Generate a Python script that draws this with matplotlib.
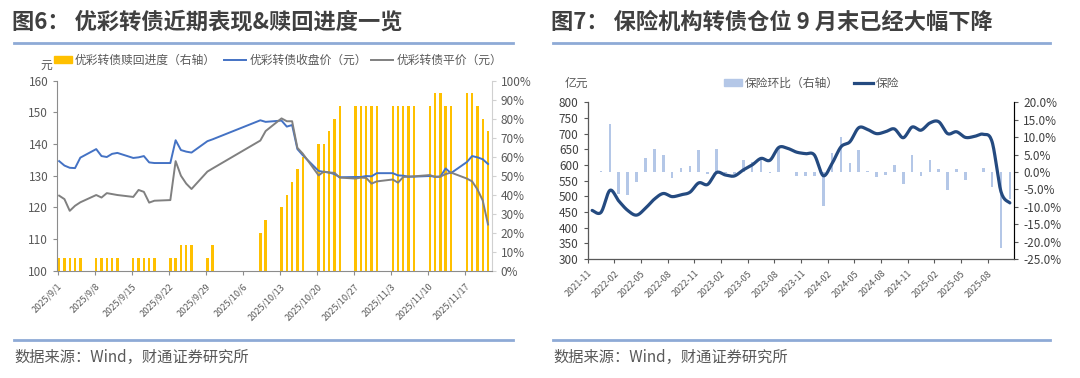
import numpy as np
import matplotlib
matplotlib.use("Agg")
import matplotlib.pyplot as plt
from matplotlib.lines import Line2D
from matplotlib.patches import Patch

plt.rcParams['font.family'] = ['Noto Sans CJK SC', 'DejaVu Sans']
plt.rcParams['axes.unicode_minus'] = False

# ---------------- Left chart data (图6) ----------------
trade_dates = [
    '2025-09-01', '2025-09-02', '2025-09-03', '2025-09-04', '2025-09-05',
    '2025-09-08', '2025-09-09', '2025-09-10', '2025-09-11', '2025-09-12',
    '2025-09-15', '2025-09-16', '2025-09-17', '2025-09-18', '2025-09-19',
    '2025-09-22', '2025-09-23', '2025-09-24', '2025-09-25', '2025-09-26',
    '2025-09-29', '2025-09-30',
    '2025-10-09', '2025-10-10',
    '2025-10-13', '2025-10-14', '2025-10-15', '2025-10-16', '2025-10-17',
    '2025-10-20', '2025-10-21', '2025-10-22', '2025-10-23', '2025-10-24',
    '2025-10-27', '2025-10-28', '2025-10-29', '2025-10-30', '2025-10-31',
    '2025-11-03', '2025-11-04', '2025-11-05', '2025-11-06', '2025-11-07',
    '2025-11-10', '2025-11-11', '2025-11-12', '2025-11-13', '2025-11-14',
    '2025-11-17', '2025-11-18', '2025-11-19', '2025-11-20', '2025-11-21',
]
close_price = [
    134.6, 133.2, 132.5, 132.4, 135.7,
    138.4, 136.2, 135.9, 136.9, 137.2,
    135.6, 135.8, 136.2, 134.2, 134.0,
    134.0, 141.2, 138.1, 137.6, 137.3,
    140.9, 141.5,
    147.5, 147.0,
    147.4, 145.5, 146.0, 138.4, 136.5,
    131.5, 131.2, 131.0, 130.5, 129.5,
    129.6, 129.6, 129.9, 129.8, 130.8,
    130.8, 130.1, 130.0, 129.7, 129.7,
    129.9, 129.7, 129.7, 132.3, 130.8,
    134.3, 136.2, 135.8, 135.2, 133.7,
]
parity = [
    123.7, 122.6, 118.9, 120.5, 121.6,
    123.9, 123.1, 124.5, 124.2, 123.9,
    123.3, 125.5, 124.9, 121.5, 122.1,
    122.3, 134.6, 130.0, 127.5, 125.8,
    131.3, 132.3,
    141.1, 144.1,
    148.1, 147.2, 147.2, 138.8, 137.0,
    130.1, 131.3, 131.0, 130.9, 129.4,
    129.1, 129.4, 129.3, 127.5, 128.2,
    128.8, 127.8, 129.6, 129.7, 129.8,
    130.2, 129.6, 129.7, 130.5, 131.0,
    129.1, 128.2, 125.7, 122.2, 114.6,
]
# redemption progress: days counted out of 15
redeem_days = [
    1, 1, 1, 1, 1,
    1, 1, 1, 1, 1,
    1, 1, 1, 1, 1,
    1, 1, 2, 2, 2,
    1, 2,
    3, 4,
    5, 6, 7, 8, 9,
    10, 10, 11, 12, 13,
    13, 13, 13, 13, 13,
    13, 13, 13, 13, 13,
    13, 14, 14, 13, 13,
    14, 14, 13, 12, 11,
]
redeem_total = 15
week_labels = ['2025/9/1', '2025/9/8', '2025/9/15', '2025/9/22', '2025/9/29', '2025/10/6',
               '2025/10/13', '2025/10/20', '2025/10/27', '2025/11/3', '2025/11/10', '2025/11/17']

# ---------------- Right chart data (图7) ----------------
months = ['2021-11', '2021-12',
          '2022-01', '2022-02', '2022-03', '2022-04', '2022-05', '2022-06',
          '2022-07', '2022-08', '2022-09', '2022-10', '2022-11', '2022-12',
          '2023-01', '2023-02', '2023-03', '2023-04', '2023-05', '2023-06',
          '2023-07', '2023-08', '2023-09', '2023-10', '2023-11', '2023-12',
          '2024-01', '2024-02', '2024-03', '2024-04', '2024-05', '2024-06',
          '2024-07', '2024-08', '2024-09', '2024-10', '2024-11', '2024-12',
          '2025-01', '2025-02', '2025-03', '2025-04', '2025-05', '2025-06',
          '2025-07', '2025-08', '2025-09', '2025-10']
insurance_hold = [455, 449,
                  519, 485, 455, 440, 462, 491,
                  509, 499, 505, 513, 543, 538,
                  576, 568, 565, 584, 600, 621,
                  615, 656, 653, 641, 636, 632,
                  566, 605, 658, 674, 719, 713,
                  700, 706, 715, 687, 721, 711,
                  734, 738, 700, 706, 688, 691,
                  698, 674, 515, 479]
insurance_mom = [np.nan, 0.4,
                 13.8, -6.3, -6.7, -2.9, 4.0, 6.7,
                 5.0, -1.7, 1.1, 1.7, 6.2, -0.6,
                 6.7, -0.2, -0.5, 3.5, 2.9, 3.8,
                 -0.3, 6.7, 0.1, -1.3, -1.2, -1.2,
                 -9.8, 5.5, 9.9, 2.6, 6.4, 0.3,
                 -1.4, -0.8, 2.1, -3.6, 5.0, -1.3,
                 3.4, 0.8, -5.2, 0.8, -2.3, 0.1,
                 1.0, -4.2, -21.8, -7.9]

# ---------------- styles ----------------
W, H = 1080, 378
fig = plt.figure(figsize=(W / 100, H / 100), dpi=100)
TXT = '#595959'
TITLE_C = '#404040'
RULE_C = '#8eaad6'


def fx(px):
    return px / W


def fy(py):
    return 1 - py / H


# titles, rules, sources
for x0, x1, title in [(14, 513, '图6： 优彩转债近期表现&赎回进度一览'),
                      (553, 1050, '图7： 保险机构转债仓位 9 月末已经大幅下降')]:
    fig.text(fx(x0 - 2), fy(22), title, fontsize=16, fontweight='bold', color=TITLE_C,
             va='center', ha='left')
    fig.add_artist(Line2D([fx(x0), fx(x1)], [fy(43), fy(43)], color=RULE_C, lw=2))
    fig.add_artist(Line2D([fx(x0), fx(x1)], [fy(340), fy(340)], color=RULE_C, lw=2))
    fig.text(fx(x0), fy(357), '数据来源：Wind，财通证券研究所', fontsize=11, color=TXT,
             va='center', ha='left')


def legend_item(handle, label, x_px, y_px, hlen):
    fig.legend([handle], [label], loc='center left', bbox_to_anchor=(fx(x_px), fy(y_px)),
               frameon=False, fontsize=8.5, handlelength=hlen, handleheight=0.6,
               handletextpad=0.25, borderpad=0, borderaxespad=0, labelcolor=TXT)


# ---------------- Left chart ----------------
base = np.datetime64('2025-09-01')
day = (np.array(trade_dates, dtype='datetime64[D]') - base).astype(float)
prog = np.array(redeem_days) / redeem_total * 100

axL = fig.add_axes([fx(57.3), fy(270.7), fx(491.7 - 57.3), (270.7 - 80.7) / H])
axL2 = axL.twinx()
axL2.bar(day, prog, width=0.45, color='#FFC000', zorder=2)
axL.plot(day, close_price, color='#4472C4', lw=1.4, zorder=3)
axL.plot(day, parity, color='#808080', lw=1.4, zorder=3)
axL.set_zorder(axL2.get_zorder() + 1)
axL.patch.set_visible(False)

axL.set_xlim(-0.35, 81.7)
axL.set_ylim(100, 160)
axL.set_yticks(np.arange(100, 161, 10))
axL2.set_ylim(0, 100)
axL2.set_yticks(np.arange(0, 101, 10))
axL2.set_yticklabels([f'{v}%' for v in range(0, 101, 10)])
week_pos = np.arange(len(week_labels)) * 7 - 0.3
axL.set_xticks(week_pos)
axL.set_xticklabels(week_labels, rotation=45, ha='right', rotation_mode='anchor',
                    fontsize=6.5, color=TXT)
for a in (axL, axL2):
    a.spines['top'].set_visible(False)
axL.spines['right'].set_visible(False)
axL2.spines['left'].set_visible(False)
axL2.spines['bottom'].set_visible(False)
axL.spines['left'].set_color('#8c8c8c')
axL.spines['bottom'].set_color('#8c8c8c')
axL2.spines['right'].set_color('#d0d0d0')
axL.tick_params(axis='y', labelsize=8.5, labelcolor=TXT, color='#8c8c8c', length=3, direction='out')
axL.tick_params(axis='x', color='#8c8c8c', length=3, pad=5)
axL2.tick_params(axis='y', labelsize=8.5, labelcolor=TXT, color='#d0d0d0', length=3)
fig.text(fx(46), fy(65), '元', fontsize=8.5, color=TXT, ha='center', va='center')

legend_item(Patch(color='#FFC000'), '优彩转债赎回进度（右轴）', 54, 60, 1.5)
legend_item(Line2D([], [], color='#4472C4', lw=1.4), '优彩转债收盘价（元）', 224, 60, 1.9)
legend_item(Line2D([], [], color='#808080', lw=1.4), '优彩转债平价（元）', 371, 60, 1.9)

# ---------------- Right chart ----------------
xpos = np.arange(len(months)) + 0.5


def catmull_rom(x, y, n=16):
    x = np.asarray(x, float)
    y = np.asarray(y, float)
    xs, ys = [], []
    for i in range(len(x) - 1):
        i0 = max(i - 1, 0)
        i3 = min(i + 2, len(x) - 1)
        p0, p1, p2, p3 = (np.array([x[k], y[k]]) for k in (i0, i, i + 1, i3))
        c1 = p1 + (p2 - p0) / 6
        c2 = p2 - (p3 - p1) / 6
        t = np.linspace(0, 1, n, endpoint=False)[:, None]
        pts = ((1 - t) ** 3) * p1 + 3 * ((1 - t) ** 2) * t * c1 + 3 * (1 - t) * t ** 2 * c2 + t ** 3 * p2
        xs.extend(pts[:, 0])
        ys.extend(pts[:, 1])
    xs.append(x[-1])
    ys.append(y[-1])
    return np.array(xs), np.array(ys)


axR = fig.add_axes([fx(587.7), fy(259), fx(1014.3 - 587.7), (259 - 102.3) / H])
axR2 = axR.twinx()
axR2.bar(xpos, insurance_mom, width=0.3, color='#B4C7E7', zorder=2)
sx, sy = catmull_rom(xpos, insurance_hold)
axR.plot(sx, sy, color='#244a80', lw=2.3, zorder=3, solid_capstyle='round')
axR.set_zorder(axR2.get_zorder() + 1)
axR.patch.set_visible(False)

axR.set_xlim(0, len(months))
axR.set_ylim(300, 800)
axR.set_yticks(np.arange(300, 801, 50))
axR2.set_ylim(-25, 20)
axR2.set_yticks(np.arange(-25, 21, 5))
axR2.set_yticklabels([f'{v:.1f}%' for v in np.arange(-25, 21, 5)])
tick_idx = np.arange(0, len(months) - 1, 3)
axR.set_xticks(tick_idx)
axR.set_xticklabels([months[i] for i in tick_idx], rotation=45, ha='right',
                    rotation_mode='anchor', fontsize=6.5, color=TXT)
axR.spines['top'].set_visible(False)
axR2.spines['top'].set_visible(False)
for s in ('left', 'bottom'):
    axR.spines[s].set_color('#595959')
axR2.spines['right'].set_color('#595959')
axR.tick_params(axis='y', labelsize=8.5, labelcolor='#404040', color='#595959', length=3)
axR.tick_params(axis='x', color='#595959', length=3, pad=4)
axR2.tick_params(axis='y', labelsize=8.5, labelcolor='#404040', color='#595959', length=3)
fig.text(fx(576), fy(83), '亿元', fontsize=8.5, color=TXT, ha='center', va='center')

legend_item(Patch(color='#B4C7E7'), '保险环比（右轴）', 724, 83, 1.5)
legend_item(Line2D([], [], color='#244a80', lw=2.3), '保险', 854, 83, 1.6)

fig.savefig('out.png', dpi=100)
